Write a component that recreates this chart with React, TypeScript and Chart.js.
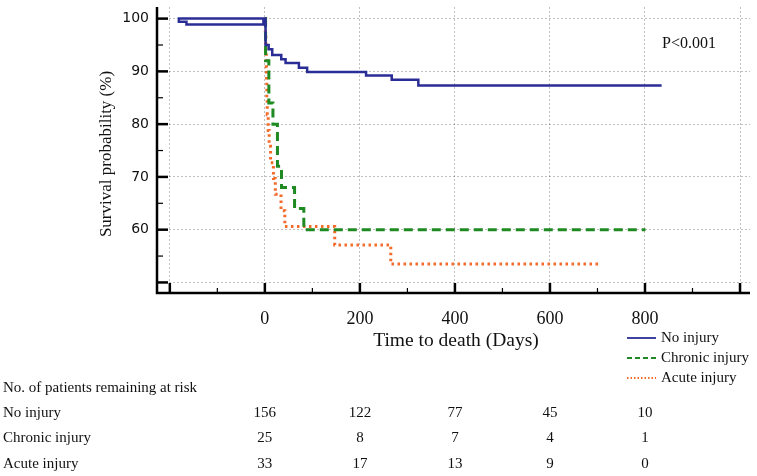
import React, { useEffect, useRef } from "react";
import { Chart, registerables } from "chart.js";

Chart.register(...registerables);

// ---- Data ----
const seriesNames = ["No injury", "Chronic injury", "Acute injury"];

// Kaplan–Meier step points: (time in days, survival % after the event)
const noInjuryTimes = [1.5, -181, -181, -165, -3, 1.5, 8, 15.5, 34.5, 43.6, 71.6, 89, 213, 267, 323, 835];
const noInjurySurv = [100, 100, 99.4, 98.9, 100, 95.0, 94.2, 93.1, 92.3, 91.6, 90.7, 89.9, 89.2, 88.4, 87.3, 87.3];

const chronicTimes = [0, 1.5, 8.4, 17, 26.5, 35, 62.5, 82, 801];
const chronicSurv = [100, 92, 84, 80, 72, 68, 64, 60, 60];

const acuteTimes = [0, 1, 2, 3, 3.5, 4, 5, 7, 9, 12, 18, 22, 34, 42, 147, 265, 705];
const acuteSurv = [100, 97.0, 93.9, 90.9, 87.9, 84.8, 81.8, 78.8, 75.8, 72.7, 69.7, 66.7, 63.6, 60.6, 57.1, 53.5, 53.5];

// Axis ticks
const xTickValues = [-200, -100, 0, 100, 200, 300, 400, 500, 600, 700, 800, 900, 1000];
const xLabelValues = [0, 200, 400, 600, 800];
const yTickValues = [50, 55, 60, 65, 70, 75, 80, 85, 90, 95, 100];
const yLabelValues = [60, 70, 80, 90, 100];

// Number at risk table
const riskTimes = [0, 200, 400, 600, 800];
const riskNoInjury = [156, 122, 77, 45, 10];
const riskChronic = [25, 8, 7, 4, 1];
const riskAcute = [33, 17, 13, 9, 0];
const riskRows = [riskNoInjury, riskChronic, riskAcute];

const pValueText = "P<0.001";
const xTitle = "Time to death (Days)";
const yTitle = "Survival probability (%)";
const tableTitle = "No. of patients remaining at risk";

const colors = ["#2b2d96", "#1f8a22", "#f26b2a"];
const dashes: number[][] = [[], [9, 5], [2.5, 3.5]];
const widths = [2.5, 3, 3];

const toPoints = (xs: number[], ys: number[]) => xs.map((x, i) => ({ x, y: ys[i] }));

const SERIF = '"Liberation Serif", "Times New Roman", serif';
const GRID = "rgba(0,0,0,0.25)";

const overlayPlugin = {
  id: "kmOverlay",
  afterDraw(chart: any) {
    const ctx = chart.ctx as CanvasRenderingContext2D;
    const { left, right, top, bottom } = chart.chartArea;
    const xs = chart.scales.x;
    const ys = chart.scales.y;

    ctx.save();
    // axes
    ctx.strokeStyle = "#000";
    ctx.lineWidth = 2.5;
    ctx.setLineDash([]);
    ctx.beginPath();
    ctx.moveTo(left, top);
    ctx.lineTo(left, bottom);
    ctx.lineTo(right, bottom);
    ctx.stroke();

    // inside ticks on x axis
    xTickValues.forEach((v) => {
      const px = xs.getPixelForValue(v);
      const major = v % 200 === 0;
      ctx.lineWidth = major ? 2.5 : 1.2;
      ctx.beginPath();
      ctx.moveTo(px, bottom);
      ctx.lineTo(px, bottom - (major ? 10 : 5));
      ctx.stroke();
    });
    // inside ticks on y axis
    yTickValues.forEach((v) => {
      const py = ys.getPixelForValue(v);
      const major = v % 10 === 0;
      ctx.lineWidth = major ? 2.5 : 1.2;
      ctx.beginPath();
      ctx.moveTo(left, py);
      ctx.lineTo(left + (major ? 11 : 6), py);
      ctx.stroke();
    });

    ctx.fillStyle = "#111";
    ctx.textBaseline = "middle";

    // y title
    ctx.save();
    ctx.translate(107, 154);
    ctx.rotate(-Math.PI / 2);
    ctx.font = `17px ${SERIF}`;
    ctx.textAlign = "center";
    ctx.fillText(yTitle, 0, 0);
    ctx.restore();

    // x title
    ctx.font = `19.5px ${SERIF}`;
    ctx.textAlign = "center";
    ctx.fillText(xTitle, 456, 341);

    // p value
    ctx.font = `16px ${SERIF}`;
    ctx.textAlign = "left";
    ctx.fillText(pValueText, 662, 44);

    // legend
    ctx.font = `15px ${SERIF}`;
    seriesNames.forEach((name, i) => {
      const ly = 338 + i * 20;
      ctx.strokeStyle = colors[i];
      ctx.lineWidth = i === 0 ? 1.8 : 2;
      ctx.setLineDash(i === 0 ? [] : i === 1 ? [5, 3] : [1.5, 2]);
      ctx.beginPath();
      ctx.moveTo(627, ly);
      ctx.lineTo(656, ly);
      ctx.stroke();
      ctx.setLineDash([]);
      ctx.fillStyle = "#111";
      ctx.textAlign = "left";
      ctx.fillText(name, 661, ly);
    });

    // number at risk table
    ctx.font = `15px ${SERIF}`;
    ctx.textAlign = "left";
    ctx.fillText(tableTitle, 3, 388);
    riskRows.forEach((row, r) => {
      const ry = 413 + r * 25.5;
      ctx.textAlign = "left";
      ctx.fillText(seriesNames[r], 3, ry);
      ctx.textAlign = "center";
      row.forEach((n, i) => {
        ctx.fillText(String(n), xs.getPixelForValue(riskTimes[i]), ry);
      });
    });
    ctx.restore();
  },
};

export default function App() {
  const canvasRef = useRef<HTMLCanvasElement | null>(null);

  useEffect(() => {
    const canvas = canvasRef.current;
    if (!canvas) return;
    const series = [
      toPoints(noInjuryTimes, noInjurySurv),
      toPoints(chronicTimes, chronicSurv),
      toPoints(acuteTimes, acuteSurv),
    ];
    const chart = new Chart(canvas, {
      type: "line",
      data: {
        datasets: series.map((data, i) => ({
          label: seriesNames[i],
          data,
          stepped: true,
          borderColor: colors[i],
          borderWidth: widths[i],
          borderDash: dashes[i],
          borderCapStyle: "butt",
          pointRadius: 0,
          fill: false,
          tension: 0,
        })),
      },
      options: {
        animation: false,
        responsive: false,
        maintainAspectRatio: false,
        devicePixelRatio: 1,
        layout: { padding: { top: 7, right: 7, left: 0, bottom: 0 } },
        plugins: { legend: { display: false }, tooltip: { enabled: false } },
        scales: {
          x: {
            type: "linear",
            min: -227,
            max: 1021,
            afterBuildTicks: (s: any) => {
              s.ticks = xTickValues.map((v) => ({ value: v }));
            },
            afterFit: (s: any) => {
              s.height = 183;
              s.paddingLeft = 0;
              s.paddingRight = 0;
            },
            ticks: {
              autoSkip: false,
              maxRotation: 0,
              padding: 15,
              color: "#111",
              font: { family: SERIF, size: 18 },
              callback: (v: any) => (xLabelValues.includes(Number(v)) ? String(v) : ""),
            },
            grid: {
              drawTicks: false,
              lineWidth: 1,
              color: (c: any) => (c.tick && c.tick.value % 200 === 0 ? GRID : "rgba(0,0,0,0)"),
            },
            border: { display: false, dash: [2, 2] },
          },
          y: {
            type: "linear",
            min: 48,
            max: 102.2,
            afterBuildTicks: (s: any) => {
              s.ticks = yTickValues.map((v) => ({ value: v }));
            },
            afterFit: (s: any) => {
              s.width = 157;
              s.paddingTop = 0;
              s.paddingBottom = 0;
            },
            ticks: {
              autoSkip: false,
              padding: 8,
              color: "#111",
              font: { family: '"DejaVu Sans", sans-serif', size: 14 },
              callback: (v: any) => (yLabelValues.includes(Number(v)) ? String(v) : ""),
            },
            grid: {
              drawTicks: false,
              lineWidth: 1,
              color: (c: any) => (c.tick && c.tick.value % 10 === 0 ? GRID : "rgba(0,0,0,0)"),
            },
            border: { display: false, dash: [2, 2] },
          },
        },
      },
      plugins: [overlayPlugin],
    } as any);
    return () => chart.destroy();
  }, []);

  return (
    <div style={{ position: "absolute", left: 0, top: 0, width: 757, height: 476, background: "#fff" }}>
      <canvas ref={canvasRef} width={757} height={476} style={{ display: "block", width: 757, height: 476 }} />
    </div>
  );
}
